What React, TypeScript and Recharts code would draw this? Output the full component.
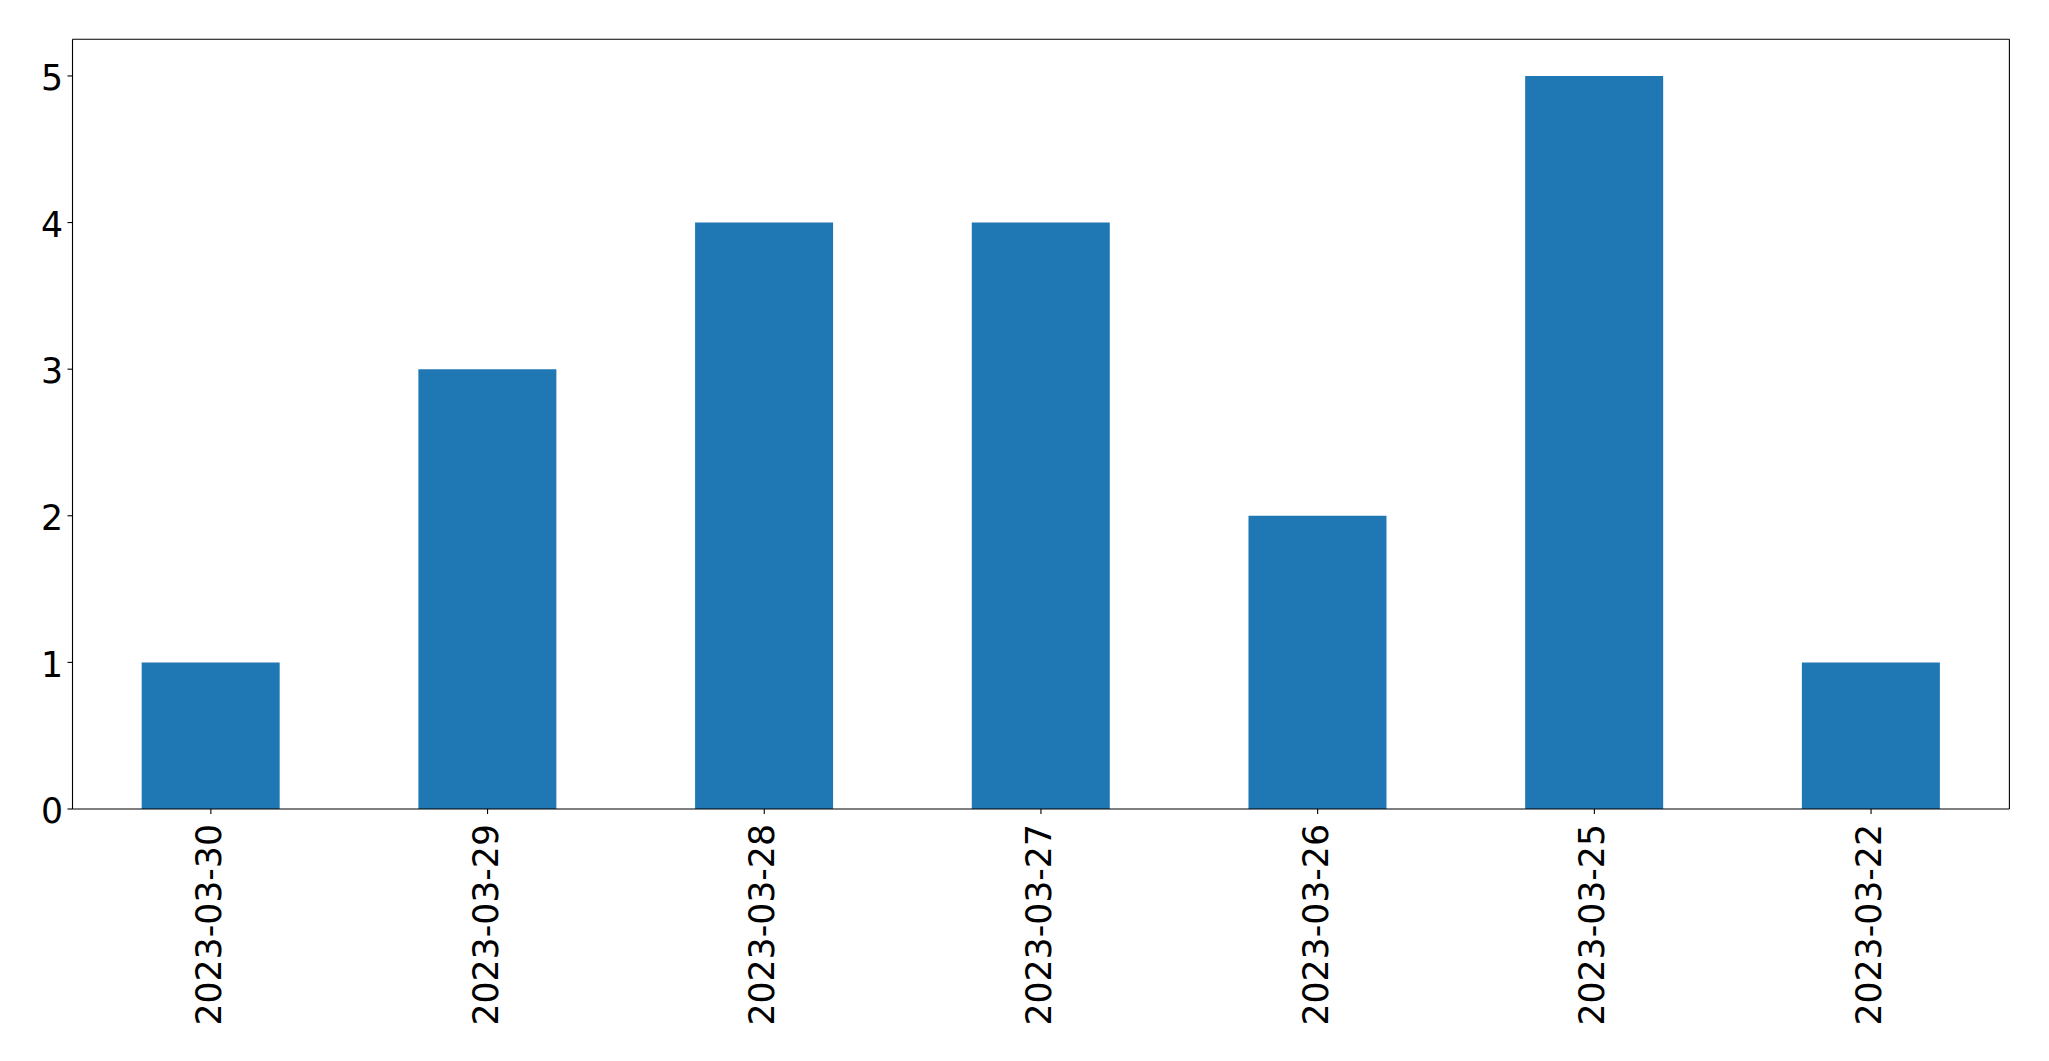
import { BarChart, Bar, XAxis, YAxis } from "recharts";

const dates = ["2023-03-30", "2023-03-29", "2023-03-28", "2023-03-27", "2023-03-26", "2023-03-25", "2023-03-22"];
const counts = [1, 3, 4, 4, 2, 5, 1];
const yTicks = [0, 1, 2, 3, 4, 5];

const data = dates.map((d, i) => ({ date: d, count: counts[i] }));

const FONT = "DejaVu Sans";
const FS = 34.7;
const LINE = { stroke: "#000", strokeWidth: 1.1 };

function XTick(props: any) {
  const { x, y, payload } = props;
  return (
    <g transform={`translate(${x},${y})`}>
      <text
        transform="rotate(-90)"
        textAnchor="end"
        dy="0.29em"
        fontFamily={FONT}
        fontSize={FS}
        fill="#000"
      >
        {payload.value}
      </text>
    </g>
  );
}

function YTick(props: any) {
  const { x, y, payload } = props;
  return (
    <text x={x} y={y} dy="0.41em" textAnchor="end" fontFamily={FONT} fontSize={FS} fill="#000">
      {payload.value}
    </text>
  );
}

export default function App() {
  return (
    <div style={{ position: "absolute", left: 0, top: 0, background: "#fff" }}>
      <BarChart
        width={2049}
        height={1061}
        data={data}
        margin={{ top: 38.3, right: 38.6, bottom: 0, left: 0 }}
        barCategoryGap="25%"
      >
        <XAxis
          dataKey="date"
          height={252}
          interval={0}
          tickSize={5}
          tickMargin={10}
          tickLine={LINE}
          axisLine={LINE}
          tick={<XTick />}
        />
        <XAxis
          xAxisId="top"
          dataKey="date"
          orientation="top"
          height={1}
          tick={false}
          tickLine={false}
          axisLine={LINE}
        />
        <YAxis
          width={72.5}
          domain={[0, 5.25]}
          ticks={yTicks}
          interval={0}
          tickSize={5}
          tickMargin={4.5}
          tickLine={LINE}
          axisLine={LINE}
          tick={<YTick />}
        />
        <YAxis
          yAxisId="right"
          orientation="right"
          width={1}
          domain={[0, 5.25]}
          tick={false}
          tickLine={false}
          axisLine={LINE}
        />
        <Bar dataKey="count" fill="#1f77b4" isAnimationActive={false} />
      </BarChart>
    </div>
  );
}
